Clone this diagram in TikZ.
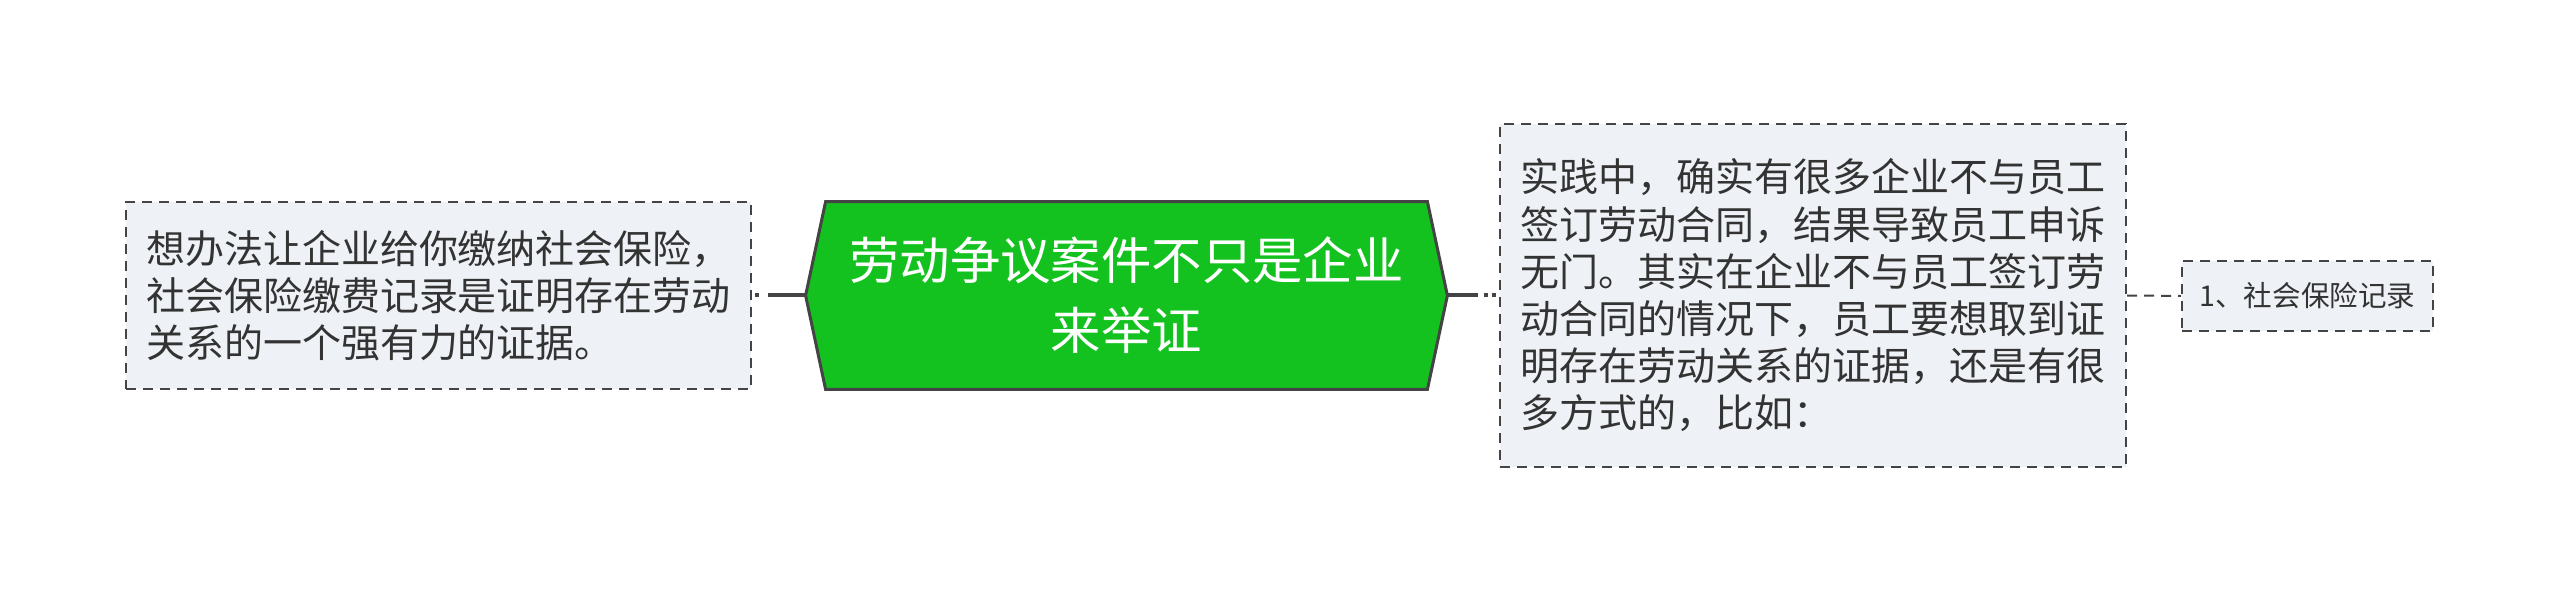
\documentclass[tikz,border=0pt]{standalone}
\usepackage{fontspec}
\usetikzlibrary{backgrounds}
\newfontfamily\cjk{Noto Sans CJK SC}
\definecolor{topicgreen}{HTML}{13C11F}
\definecolor{boxfill}{HTML}{EEF1F5}
\definecolor{linegray}{HTML}{444444}
\definecolor{textgray}{HTML}{333333}
\begin{document}
\begin{tikzpicture}[x=0.5pt,y=-0.5pt,
    subbox/.style={draw=linegray,line width=1pt,dash pattern=on 5pt off 3.5pt,
      fill=boxfill,align=left,inner sep=0pt,text=textgray,
      font=\cjk\fontsize{19.5pt}{23.6pt}\selectfont},
    mainbox/.style={align=center,inner sep=0pt,text=white,
      minimum width=300.5pt,minimum height=93.5pt,
      font=\cjk\fontsize{25.2pt}{35pt}\selectfont},
    hexa/.style={fill=topicgreen,draw=linegray,line width=1.5pt,line join=miter},
    conn/.style={draw=linegray,line width=2pt}]
\useasboundingbox (0,0) rectangle (2560,593);
% main topic
\node[mainbox] (M) at (1126.5,295.5) {劳动争议案件不只是企业\\来举证};
\begin{scope}[on background layer]
  \draw[hexa] (M.north west) -- (M.north east) -- ([xshift=10pt]M.east)
    -- (M.south east) -- (M.south west) -- ([xshift=-10pt]M.west) -- cycle;
\end{scope}
% sub topics
\node[subbox,minimum width=312.5pt,minimum height=93.5pt] (L) at (438.5,295.5)
  {想办法让企业给你缴纳社会保险，\\社会保险缴费记录是证明存在劳动\\关系的一个强有力的证据。};
\node[subbox,minimum width=313pt,minimum height=171.5pt] (R) at (1813,295.5)
  {实践中，确实有很多企业不与员工\\签订劳动合同，结果导致员工申诉\\无门。其实在企业不与员工签订劳\\动合同的情况下，员工要想取到证\\明存在劳动关系的证据，还是有很\\多方式的，比如：};
\node[subbox,minimum width=125.5pt,minimum height=35pt,
  font=\cjk\fontsize{14.3pt}{17pt}\selectfont] (S) at (2307.5,296) {1、社会保险记录};
% connectors
\draw[conn,dash pattern=on 19pt off 4.5pt on 2pt off 10pt] ([xshift=-10pt]M.west) -- (L.east);
\draw[conn,dash pattern=on 15.5pt off 3pt on 2pt off 2pt on 2pt off 10pt] ([xshift=10pt]M.east) -- (R.west);
\draw[draw=linegray,line width=1pt,dash pattern=on 5pt off 3.5pt] (R.east) -- (S.west);
\end{tikzpicture}
\end{document}
